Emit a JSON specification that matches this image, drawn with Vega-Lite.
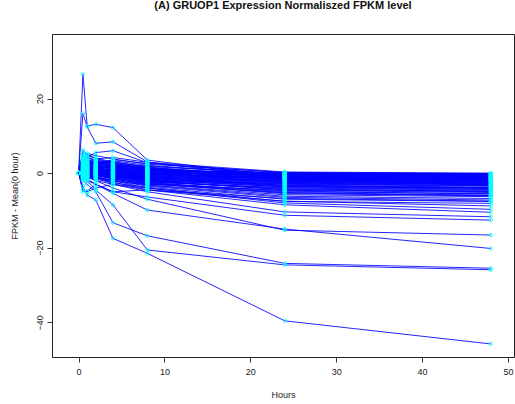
{
  "$schema": "https://vega.github.io/schema/vega-lite/v6.json",
  "width": 462,
  "height": 323,
  "autosize": "none",
  "padding": {"left": 52, "top": 34, "right": 1, "bottom": 47},
  "background": "white",
  "config": {
    "view": {"stroke": "#222222", "strokeWidth": 1},
    "font": "Liberation Sans"
  },
  "title": {
    "text": "(A) GRUOP1 Expression Normaliszed FPKM level",
    "font": "Liberation Sans",
    "fontSize": 11,
    "fontWeight": "bold",
    "color": "#111111",
    "anchor": "middle",
    "frame": "group",
    "baseline": "middle",
    "offset": 17
  },
  "datasets": {
    "genes": [
      {"g": "o1", "h": [0,0.5,1,2,4,8,24,48], "v": [0, 26.5, 12.6, 13.1, 12.2, 3.5, -1.0, -3.0]},
      {"g": "o2", "h": [0,0.5,1,2,4,8,24,48], "v": [0, 16.0, 12.4, 8.0, 8.4, 3.0, -1.5, -3.2]},
      {"g": "o3", "h": [0,0.5,1,2,4,8,24,48], "v": [0, 3.0, 4.2, 5.5, 6.0, 2.8, -0.5, -1.8]},
      {"g": "o4", "h": [0,0.5,1,2,4,8,24,48], "v": [0, -2.0, -3.0, -5.0, -13.3, -16.8, -24.2, -25.5]},
      {"g": "o5", "h": [0,0.5,1,2,4,8,24,48], "v": [0, -3.5, -5.9, -7.2, -17.5, -21.5, -39.6, -45.8]},
      {"g": "o6", "h": [0,0.5,1,2,4,8,24,48], "v": [0, -1.0, -2.0, -4.5, -8.5, -20.6, -24.6, -25.9]},
      {"g": "o7", "h": [0,0.5,1,2,4,8,24,48], "v": [0, -1.0, -1.5, -3.0, -5.4, -9.9, -15.0, -20.2]},
      {"g": "o8", "h": [0,0.5,1,2,4,8,24,48], "v": [0, 0.0, -1.0, -2.0, -4.0, -7.0, -15.3, -16.6]},
      {"g": "o9", "h": [0,0.5,1,2,4,8,24,48], "v": [0, -1.0, -2.0, -3.0, -5.0, -6.4, -11.3, -12.6]},
      {"g": "o10", "h": [0,0.5,1,2,4,8,24,48], "v": [0, 0.0, -1.0, -1.0, -3.0, -5.0, -10.4, -11.7]},
      {"g": "o11", "h": [0,0.5,1,2,4,8,24,48], "v": [0, -0.5, -1.0, -2.0, -3.0, -4.5, -8.5, -10.5]},
      {"g": "o12", "h": [0,0.5,1,2,4,8,24,48], "v": [0, -4.5, -5.0, -4.0, -3.0, -4.0, -8.0, -9.7]},
      {"g": "o13", "h": [0,0.5,1,2,4,8,24,48], "v": [0, -5.0, -4.8, -3.0, -5.0, -4.5, -7.5, -8.8]},
      {"g": "m1", "h": [0,0.5,1,2,4,8,24,48], "v": [0, 1.2, 0.8, 1.5, 2.1, 1.0, -0.2, -0.5]},
      {"g": "m2", "h": [0,0.5,1,2,4,8,24,48], "v": [0, -0.5, 0.3, 0.9, 0.4, -0.8, -1.5, -1.8]},
      {"g": "m3", "h": [0,0.5,1,2,4,8,24,48], "v": [0, 2.5, 3.1, 2.2, 1.3, 0.2, -0.9, -1.2]},
      {"g": "m4", "h": [0,0.5,1,2,4,8,24,48], "v": [0, 0.4, -0.2, -0.6, -1.1, -1.9, -2.8, -3.3]},
      {"g": "m5", "h": [0,0.5,1,2,4,8,24,48], "v": [0, 5.5, 4.8, 3.9, 2.6, 1.2, -0.4, -0.9]},
      {"g": "m6", "h": [0,0.5,1,2,4,8,24,48], "v": [0, -1.2, -0.8, 0.2, 0.8, -0.3, -1.1, -1.4]},
      {"g": "m7", "h": [0,0.5,1,2,4,8,24,48], "v": [0, 0.9, 1.7, 2.8, 3.3, 2.1, -0.6, -1.0]},
      {"g": "m8", "h": [0,0.5,1,2,4,8,24,48], "v": [0, 3.4, 2.2, 1.1, 0.5, -1.2, -3.5, -4.1]},
      {"g": "m9", "h": [0,0.5,1,2,4,8,24,48], "v": [0, -0.3, -1.0, -1.4, -2.2, -3.0, -4.6, -5.2]},
      {"g": "m10", "h": [0,0.5,1,2,4,8,24,48], "v": [0, 1.8, 1.1, 0.4, -0.3, -1.5, -2.1, -2.5]},
      {"g": "m11", "h": [0,0.5,1,2,4,8,24,48], "v": [0, 0.2, 0.6, 1.9, 1.4, 0.6, 0.1, -0.1]},
      {"g": "m12", "h": [0,0.5,1,2,4,8,24,48], "v": [0, 4.1, 5.3, 4.7, 3.8, 2.4, 0.2, -0.3]},
      {"g": "m13", "h": [0,0.5,1,2,4,8,24,48], "v": [0, -0.9, -0.4, -0.1, -0.7, -2.4, -3.9, -4.4]},
      {"g": "m14", "h": [0,0.5,1,2,4,8,24,48], "v": [0, 1.5, 2.4, 3.4, 2.9, 1.6, -1.3, -1.9]},
      {"g": "m15", "h": [0,0.5,1,2,4,8,24,48], "v": [0, 0.6, 0.1, -0.4, -1.6, -2.8, -5.5, -6.0]},
      {"g": "m16", "h": [0,0.5,1,2,4,8,24,48], "v": [0, 2.8, 1.6, 0.7, 1.0, -0.1, -0.8, -1.1]},
      {"g": "m17", "h": [0,0.5,1,2,4,8,24,48], "v": [0, -1.6, -1.2, -0.8, -0.2, -1.1, -2.3, -2.6]},
      {"g": "m18", "h": [0,0.5,1,2,4,8,24,48], "v": [0, 0.3, 1.2, 2.1, 2.5, 0.9, -1.8, -2.2]},
      {"g": "m19", "h": [0,0.5,1,2,4,8,24,48], "v": [0, 3.9, 3.3, 2.5, 1.8, 0.4, -2.6, -3.0]},
      {"g": "m20", "h": [0,0.5,1,2,4,8,24,48], "v": [0, -0.2, 0.5, 0.1, -0.5, -1.7, -3.2, -3.8]},
      {"g": "m21", "h": [0,0.5,1,2,4,8,24,48], "v": [0, 1.1, 0.3, -0.2, -0.9, -2.2, -4.2, -4.9]},
      {"g": "m22", "h": [0,0.5,1,2,4,8,24,48], "v": [0, 2.1, 2.9, 3.8, 4.2, 2.9, 0.3, 0.0]},
      {"g": "m23", "h": [0,0.5,1,2,4,8,24,48], "v": [0, -0.7, -1.5, -1.1, -1.8, -3.3, -6.2, -6.8]},
      {"g": "m24", "h": [0,0.5,1,2,4,8,24,48], "v": [0, 0.8, 1.4, 1.2, 0.7, -0.6, -1.6, -2.0]},
      {"g": "m25", "h": [0,0.5,1,2,4,8,24,48], "v": [0, 4.6, 3.7, 2.9, 2.0, 0.8, -1.0, -1.5]},
      {"g": "m26", "h": [0,0.5,1,2,4,8,24,48], "v": [0, 0.1, -0.5, -0.9, -1.3, -2.6, -4.8, -5.6]},
      {"g": "m27", "h": [0,0.5,1,2,4,8,24,48], "v": [0, 1.9, 2.6, 1.8, 1.6, 0.3, -0.5, -0.7]},
      {"g": "m28", "h": [0,0.5,1,2,4,8,24,48], "v": [0, -1.4, -0.6, 0.6, 0.2, -1.4, -2.9, -3.4]},
      {"g": "m29", "h": [0,0.5,1,2,4,8,24,48], "v": [0, 2.4, 1.9, 1.3, 0.1, -0.9, -2.4, -2.9]},
      {"g": "m30", "h": [0,0.5,1,2,4,8,24,48], "v": [0, 0.5, 0.9, 2.4, 3.0, 1.8, -0.2, -0.6]},
      {"g": "m31", "h": [0,0.5,1,2,4,8,24,48], "v": [0, -0.1, -0.9, -1.6, -2.6, -3.8, -7.0, -7.6]},
      {"g": "m32", "h": [0,0.5,1,2,4,8,24,48], "v": [0, 3.1, 4.2, 3.1, 2.3, 1.4, -1.2, -1.7]},
      {"g": "m33", "h": [0,0.5,1,2,4,8,24,48], "v": [0, 1.3, 0.7, 0.0, -0.4, -1.0, -2.0, -2.4]},
      {"g": "m34", "h": [0,0.5,1,2,4,8,24,48], "v": [0, 0.7, 1.9, 2.7, 1.9, 0.5, -1.4, -1.6]},
      {"g": "m35", "h": [0,0.5,1,2,4,8,24,48], "v": [0, -0.4, 0.2, 0.5, 0.0, -2.0, -3.6, -4.0]},
      {"g": "m36", "h": [0,0.5,1,2,4,8,24,48], "v": [0, 2.0, 1.3, 0.9, 1.2, 0.0, -0.3, -0.4]},
      {"g": "m37", "h": [0,0.5,1,2,4,8,24,48], "v": [0, 5.0, 4.3, 3.5, 2.4, 1.1, -0.7, -1.3]},
      {"g": "m38", "h": [0,0.5,1,2,4,8,24,48], "v": [0, 0.0, -0.3, -0.7, -1.0, -2.5, -5.0, -5.5]},
      {"g": "m39", "h": [0,0.5,1,2,4,8,24,48], "v": [0, 1.6, 2.0, 1.4, 0.9, -0.4, -1.7, -2.1]},
      {"g": "m40", "h": [0,0.5,1,2,4,8,24,48], "v": [0, -1.0, -1.3, -0.5, -1.4, -3.2, -5.8, -6.3]},
      {"g": "m41", "h": [0,0.5,1,2,4,8,24,48], "v": [0, 3.6, 2.7, 2.0, 1.5, 0.7, -0.1, -0.2]},
      {"g": "m42", "h": [0,0.5,1,2,4,8,24,48], "v": [0, 0.9, 0.4, 0.3, -0.1, -1.3, -2.7, -3.1]},
      {"g": "m43", "h": [0,0.5,1,2,4,8,24,48], "v": [0, 1.4, 2.2, 3.0, 2.7, 1.3, -1.0, -1.3]},
      {"g": "m44", "h": [0,0.5,1,2,4,8,24,48], "v": [0, -0.6, -0.1, 0.4, -0.6, -2.1, -4.4, -4.8]},
      {"g": "m45", "h": [0,0.5,1,2,4,8,24,48], "v": [0, 2.7, 3.5, 2.6, 1.7, 0.9, -0.3, -0.8]},
      {"g": "m46", "h": [0,0.5,1,2,4,8,24,48], "v": [0, 0.2, -0.4, -1.0, -1.9, -3.5, -6.5, -7.2]},
      {"g": "m47", "h": [0,0.5,1,2,4,8,24,48], "v": [0, 1.0, 1.6, 1.0, 0.6, -0.7, -2.2, -2.8]},
      {"g": "m48", "h": [0,0.5,1,2,4,8,24,48], "v": [0, 4.4, 3.0, 1.7, 1.1, 0.1, -1.9, -2.3]},
      {"g": "m49", "h": [0,0.5,1,2,4,8,24,48], "v": [0, -0.8, -0.2, -0.3, -0.8, -1.6, -3.0, -3.5]},
      {"g": "m50", "h": [0,0.5,1,2,4,8,24,48], "v": [0, 0.6, 1.0, 1.6, 2.0, 1.9, -0.1, -0.3]},
      {"g": "m51", "h": [0,0.5,1,2,4,8,24,48], "v": [0, 1.7, 1.2, 0.8, 0.3, -1.1, -3.3, -3.9]},
      {"g": "m52", "h": [0,0.5,1,2,4,8,24,48], "v": [0, 2.2, 2.8, 2.3, 1.5, 0.6, -0.6, -0.9]},
      {"g": "m53", "h": [0,0.5,1,2,4,8,24,48], "v": [0, 0.3, 0.0, -0.2, -1.2, -2.7, -5.2, -5.9]},
      {"g": "m54", "h": [0,0.5,1,2,4,8,24,48], "v": [0, -1.8, -1.0, -0.4, 0.3, -0.8, -1.9, -2.4]},
      {"g": "m55", "h": [0,0.5,1,2,4,8,24,48], "v": [0, 3.0, 2.1, 1.5, 0.8, -0.2, -1.4, -1.8]},
      {"g": "m56", "h": [0,0.5,1,2,4,8,24,48], "v": [0, 0.4, 0.8, 0.6, 0.1, -1.8, -3.7, -4.3]},
      {"g": "m57", "h": [0,0.5,1,2,4,8,24,48], "v": [0, 1.2, 1.8, 2.6, 3.6, 2.6, 0.1, -0.2]},
      {"g": "m58", "h": [0,0.5,1,2,4,8,24,48], "v": [0, -0.3, -0.7, -1.2, -2.0, -4.0, -7.6, -8.1]},
      {"g": "m59", "h": [0,0.5,1,2,4,8,24,48], "v": [0, 2.6, 2.0, 1.2, 0.4, -0.5, -1.1, -1.2]},
      {"g": "m60", "h": [0,0.5,1,2,4,8,24,48], "v": [0, 0.8, 0.2, -0.3, -0.8, -2.3, -4.0, -4.6]},
      {"g": "m61", "h": [0,0.5,1,2,4,8,24,48], "v": [0, 6.2, 5.0, 4.0, 3.0, 1.5, -0.8, -1.4]},
      {"g": "m62", "h": [0,0.5,1,2,4,8,24,48], "v": [0, -0.5, -0.9, -0.6, -1.5, -2.9, -5.3, -6.1]},
      {"g": "m63", "h": [0,0.5,1,2,4,8,24,48], "v": [0, 1.5, 1.0, 0.5, 0.0, -1.4, -2.5, -3.0]},
      {"g": "m64", "h": [0,0.5,1,2,4,8,24,48], "v": [0, 0.1, 0.7, 1.3, 1.7, 0.4, -0.9, -1.1]},
      {"g": "m65", "h": [0,0.5,1,2,4,8,24,48], "v": [0, 3.3, 2.4, 1.9, 1.2, 0.0, -1.6, -2.0]},
      {"g": "m66", "h": [0,0.5,1,2,4,8,24,48], "v": [0, -1.1, -0.3, 0.0, -0.4, -1.9, -3.4, -4.0]},
      {"g": "m67", "h": [0,0.5,1,2,4,8,24,48], "v": [0, 0.5, 0.4, -0.1, -0.6, -2.0, -4.5, -5.0]},
      {"g": "m68", "h": [0,0.5,1,2,4,8,24,48], "v": [0, 1.9, 2.5, 3.2, 2.2, 1.0, -0.4, -0.6]},
      {"g": "m69", "h": [0,0.5,1,2,4,8,24,48], "v": [0, -0.2, -0.6, -1.3, -2.4, -4.5, -6.8, -7.5]},
      {"g": "m70", "h": [0,0.5,1,2,4,8,24,48], "v": [0, 2.3, 1.5, 1.0, 0.6, -0.3, -1.3, -1.5]}
    ]
  },
  "data": {"name": "genes"},
  "transform": [{"flatten": ["h", "v"]}],
  "encoding": {
    "x": {
      "field": "h",
      "type": "quantitative",
      "scale": {"domain": [-3.1, 50.7], "nice": false, "zero": false},
      "axis": {
        "values": [0, 10, 20, 30, 40, 50],
        "grid": false,
        "domain": false,
        "tickColor": "#333333",
        "tickSize": 5,
        "labelFont": "Liberation Sans",
        "labelFontSize": 9,
        "labelColor": "#222222",
        "labelPadding": 5,
        "title": "Hours",
        "titleFont": "Liberation Sans",
        "titleFontSize": 9,
        "titleFontWeight": "normal",
        "titleColor": "#222222",
        "titleX": 231,
        "titleY": 37,
        "titleBaseline": "middle",
        "titleAlign": "center"
      }
    },
    "y": {
      "field": "v",
      "type": "quantitative",
      "scale": {"domain": [-49.3, 37.3], "nice": false, "zero": false},
      "axis": {
        "values": [-40, -20, 0, 20],
        "grid": false,
        "domain": false,
        "tickColor": "#333333",
        "tickSize": 5,
        "labelFont": "Liberation Sans",
        "labelFontSize": 9,
        "labelColor": "#222222",
        "labelAngle": 270,
        "labelAlign": "center",
        "labelBaseline": "bottom",
        "labelPadding": 3,
        "title": "FPKM - Mean(0 hour)",
        "titleFont": "Liberation Sans",
        "titleFontSize": 9,
        "titleFontWeight": "normal",
        "titleColor": "#222222",
        "titleAngle": 270,
        "titleX": -38,
        "titleY": 161.5,
        "titleBaseline": "middle",
        "titleAlign": "center"
      }
    }
  },
  "layer": [
    {
      "mark": {"type": "line", "color": "#0000ff", "strokeWidth": 1, "opacity": 0.85},
      "encoding": {"detail": {"field": "g", "type": "nominal"}}
    },
    {
      "mark": {"type": "point", "shape": "circle", "filled": false, "color": "#00ffff", "size": 11, "strokeWidth": 0.8, "opacity": 1}
    }
  ]
}
